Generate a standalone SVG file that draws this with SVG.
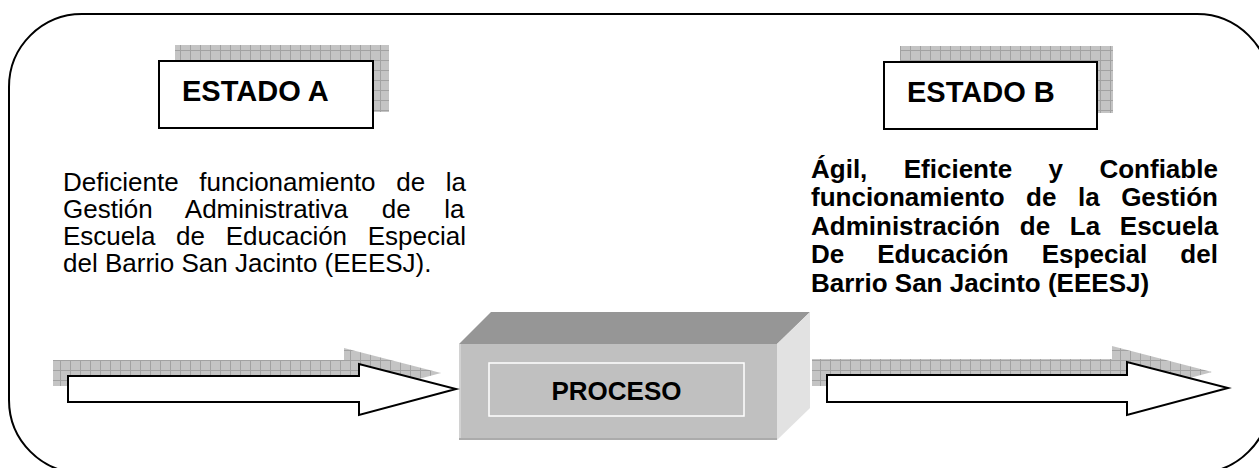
<svg xmlns="http://www.w3.org/2000/svg" width="1259" height="468" viewBox="0 0 1259 468">
  <defs>
    <pattern id="grid" width="10" height="10" patternUnits="userSpaceOnUse">
      <rect width="10" height="10" fill="#c4c4c4"/>
      <path d="M0 0.5H10M0.5 0V10" stroke="#a2a2a2" stroke-width="1"/>
    </pattern>
  </defs>
  <style>
    .frame { fill: #ffffff; stroke: #000000; stroke-width: 2; }
    .box { fill: #ffffff; stroke: #000000; stroke-width: 2; }
    .shadow { fill: url(#grid); }
    .arrow { fill: #ffffff; stroke: #000000; stroke-width: 2; stroke-linejoin: miter; }
    .title { font-family: "Liberation Sans", Arial, sans-serif; font-weight: bold; font-size: 29px; fill: #000; }
    .para { font-family: "Liberation Sans", Arial, sans-serif; font-size: 26px; fill: #000; }
    .bold { font-weight: bold; }
    .proc { font-family: "Liberation Sans", Arial, sans-serif; font-weight: bold; font-size: 26px; fill: #000; }
  </style>

  <rect id="frame" class="frame" x="9" y="14" width="1261" height="459" rx="73" ry="73"/>

  <g id="estadoA">
    <rect class="shadow" x="175" y="45" width="214" height="67"/>
    <rect class="box" x="159" y="61" width="214" height="67"/>
    <text class="title" x="182" y="101">ESTADO A</text>
  </g>

  <g id="estadoB">
    <rect class="shadow" x="900" y="46" width="213" height="67"/>
    <rect class="box" x="884" y="62" width="213" height="67"/>
    <text class="title" x="907" y="102">ESTADO B</text>
  </g>

  <g id="textoA">
    <text class="para" x="63" y="191" word-spacing="13.4">Deficiente funcionamiento de la</text>
    <text class="para" x="63" y="218" word-spacing="26.4">Gestión Administrativa de la</text>
    <text class="para" x="63" y="245" word-spacing="13.4">Escuela de Educación Especial</text>
    <text class="para" x="63" y="272">del Barrio San Jacinto (EEESJ).</text>
  </g>

  <g id="textoB">
    <text class="para bold" x="811" y="178" word-spacing="29.2">Ágil, Eficiente y Confiable</text>
    <text class="para bold" x="811" y="206" word-spacing="14.3">funcionamiento de la Gestión</text>
    <text class="para bold" x="811" y="235" word-spacing="12.4">Administración de La Escuela</text>
    <text class="para bold" x="811" y="263" word-spacing="25.8">De Educación Especial del</text>
    <text class="para bold" x="811" y="292">Barrio San Jacinto (EEESJ)</text>
  </g>

  <g id="proceso">
    <polygon points="459,344 491,312 810,312 777,344" fill="#969696"/>
    <polygon points="777,344 810,312 810,408 777,440" fill="#e2e2e2"/>
    <rect x="459" y="344" width="318" height="96" fill="#c0c0c0"/>
    <rect x="459" y="344" width="2" height="96" fill="#d2d2d2"/>
    <rect x="459" y="438" width="318" height="2" fill="#ababab"/>
    <rect x="489" y="363" width="255" height="53" fill="#c0c0c0" stroke="#ffffff" stroke-width="1.5"/>
    <text class="proc" x="616.5" y="400" text-anchor="middle">PROCESO</text>
  </g>

  <g id="connectors">
    <polygon class="shadow" points="53,360 344,360 344,348 441,373 344,399 344,386 53,386"/>
    <polygon class="arrow" points="68,376 359,376 359,364 456,389 359,415 359,402 68,402"/>
    <polygon class="shadow" points="812,359 1112,359 1112,346 1212,372 1112,399 1112,386 812,386"/>
    <polygon class="arrow" points="827,375 1127,375 1127,362 1228,388 1127,415 1127,402 827,402"/>
  </g>
</svg>
